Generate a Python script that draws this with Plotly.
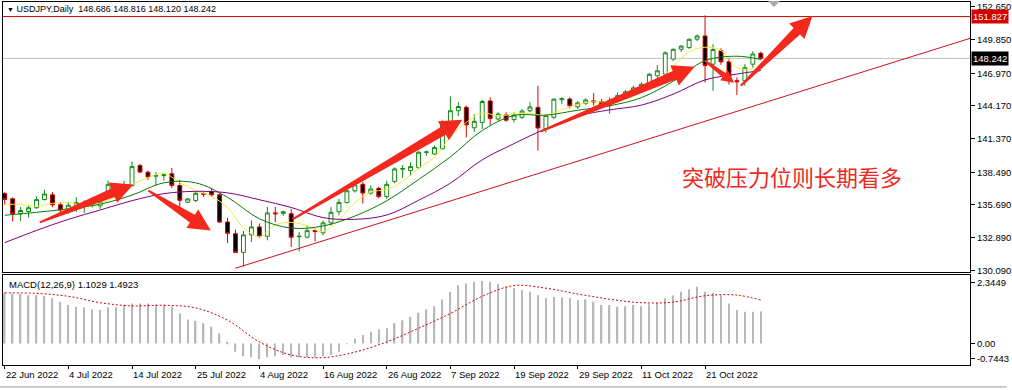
import math
import plotly.graph_objects as go

# ---------------- data ----------------
bar_index = list(range(96))

opens = [136.66, 136.21, 134.93, 135.13, 135.44, 136.15, 136.55, 135.70, 135.25, 135.55,
         135.64, 135.70, 135.60, 136.69, 137.40, 137.25, 137.35, 139.06, 138.49, 138.15,
         138.20, 138.35, 137.35, 135.92, 136.07, 136.66, 136.84, 136.55, 134.22, 133.22,
         131.62, 133.12, 133.80, 133.00, 135.00, 134.96, 134.93, 132.96, 132.93, 133.50,
         133.30, 134.15, 135.10, 135.90, 136.90, 137.45, 136.70, 137.10, 136.40, 137.70,
         138.75, 138.63, 138.90, 140.20, 140.05, 140.50, 142.78, 143.76, 144.05, 142.30,
         142.76, 144.60, 143.05, 143.40, 143.00, 143.20, 143.75, 144.05, 142.20, 143.20,
         144.70, 144.76, 144.10, 144.39, 144.60, 144.53, 144.19, 144.61, 145.00, 145.30,
         145.75, 145.85, 146.75, 146.90, 148.18, 149.03, 149.17, 149.89, 150.17, 147.75,
         148.89, 147.95, 146.33, 146.33, 147.75, 148.686]
highs = [136.78, 136.33, 135.50, 135.64, 136.41, 136.98, 136.78, 135.93, 135.93, 136.35,
         136.07, 136.05, 136.55, 137.78, 137.55, 137.75, 139.40, 139.20, 138.63, 138.49,
         138.40, 138.86, 137.83, 136.27, 136.84, 136.84, 137.15, 136.69, 134.58, 133.56,
         133.45, 134.36, 134.10, 135.50, 135.50, 135.20, 135.36, 133.36, 133.93, 133.65,
         134.36, 135.50, 136.20, 137.00, 137.60, 137.65, 137.35, 137.25, 137.75, 138.90,
         139.10, 139.35, 140.30, 140.35, 140.78, 142.95, 144.99, 144.50, 144.19, 143.45,
         144.70, 144.90, 143.62, 143.62, 143.62, 143.90, 144.48, 145.90, 143.47, 144.82,
         144.90, 144.90, 144.57, 144.82, 145.27, 144.76, 144.90, 145.33, 145.55, 145.90,
         146.20, 147.00, 147.66, 148.86, 149.10, 149.40, 149.95, 150.30, 151.94, 149.46,
         149.10, 148.30, 146.61, 147.75, 148.86, 148.816]
lows = [135.70, 134.27, 134.30, 134.60, 135.35, 136.06, 135.50, 134.93, 134.93, 135.07,
        134.98, 135.45, 135.35, 136.58, 136.92, 137.00, 137.26, 138.40, 137.83, 137.35,
        137.78, 137.15, 135.50, 135.84, 135.92, 136.35, 136.35, 134.13, 132.42, 131.57,
        130.40, 132.50, 132.85, 132.65, 134.20, 134.75, 132.08, 131.70, 132.80, 132.55,
        133.08, 133.93, 134.80, 135.80, 136.75, 135.80, 136.55, 136.25, 136.20, 137.55,
        137.98, 138.20, 138.75, 139.90, 139.97, 140.45, 142.70, 143.30, 141.48, 141.95,
        142.20, 142.55, 142.90, 142.82, 142.75, 143.05, 143.62, 140.35, 141.90, 143.05,
        144.33, 143.96, 143.90, 144.25, 144.19, 144.05, 143.50, 144.47, 144.76, 145.27,
        145.55, 145.70, 146.05, 146.80, 148.00, 148.80, 149.05, 149.70, 146.18, 145.47,
        147.70, 146.00, 145.10, 145.90, 147.45, 148.120]
closes = [136.15, 134.93, 135.21, 135.44, 136.14, 136.62, 135.70, 135.25, 135.66, 135.88,
          135.70, 135.80, 136.00, 137.45, 137.15, 137.42, 138.97, 138.50, 138.08, 138.20,
          138.26, 137.36, 136.08, 136.20, 136.68, 136.60, 136.55, 134.22, 133.25, 131.62,
          133.12, 133.80, 133.00, 135.00, 134.93, 135.10, 132.92, 133.00, 133.48, 133.40,
          134.15, 135.05, 135.90, 136.90, 137.40, 136.70, 137.05, 136.40, 137.45, 138.77,
          138.80, 138.97, 140.20, 140.22, 140.60, 142.78, 143.76, 144.12, 142.55, 142.85,
          144.55, 143.10, 143.48, 142.95, 143.40, 143.73, 144.08, 142.28, 143.35, 144.75,
          144.80, 144.18, 144.43, 144.68, 144.50, 144.25, 144.60, 145.05, 145.38, 145.72,
          146.02, 146.88, 147.18, 148.72, 149.02, 149.30, 149.88, 150.16, 147.63, 149.00,
          147.95, 146.35, 146.25, 147.45, 148.62, 148.242]

# moving averages
ma_fast_idx = list(range(0, 96, 2)) + [95]
ma_fast = [135.70, 135.75, 135.57, 135.82, 135.87, 135.64, 135.81, 136.42, 137.40, 138.02,
           138.40, 137.60, 136.92, 136.42, 135.46, 133.75, 132.96, 133.97, 134.19, 133.89,
           133.39, 134.40, 135.88, 136.79, 137.00, 137.69, 138.84, 139.76, 141.51, 142.76,
           143.57, 143.31, 143.50, 143.53, 143.37, 143.85, 144.30, 144.52, 144.49, 144.76,
           145.35, 146.24, 147.56, 148.82, 149.20, 148.92, 147.44, 147.32, 147.38]
ma_slow_idx = list(range(0, 96, 4)) + [95]
ma_mid = [134.80, 135.05, 135.35, 135.75, 136.53, 137.58, 137.58, 136.34, 134.50, 133.70,
          133.88, 134.73, 136.04, 137.86, 139.80, 142.06, 143.35, 143.38, 143.80, 144.18,
          144.88, 146.28, 148.05, 148.43, 148.15]
ma_long = [132.45, 133.50, 134.45, 135.25, 136.05, 136.65, 136.85, 136.72, 136.13, 135.47,
           134.60, 134.45, 134.82, 136.08, 137.55, 139.55, 140.94, 142.23, 143.30, 143.83,
           144.24, 145.18, 146.40, 146.90, 147.20]

macd_hist = [1.74, 1.72, 1.70, 1.66, 1.66, 1.64, 1.55, 1.43, 1.32, 1.26,
             1.24, 1.17, 1.15, 1.24, 1.24, 1.32, 1.37, 1.37, 1.37, 1.34,
             1.34, 1.26, 1.03, 0.82, 0.78, 0.69, 0.57, 0.34, 0.06, -0.29,
             -0.44, -0.48, -0.55, -0.48, -0.44, -0.40, -0.48, -0.48, -0.48, -0.48,
             -0.44, -0.40, -0.29, -0.02, 0.17, 0.29, 0.40, 0.48, 0.52, 0.69,
             0.80, 0.92, 1.05, 1.17, 1.28, 1.51, 1.78, 2.00, 2.06, 2.12,
             2.15, 2.12, 2.04, 1.95, 1.91, 1.83, 1.78, 1.66, 1.55, 1.60,
             1.58, 1.55, 1.49, 1.51, 1.43, 1.32, 1.32, 1.26, 1.28, 1.32,
             1.28, 1.35, 1.40, 1.55, 1.66, 1.78, 1.86, 1.95, 1.78, 1.74,
             1.66, 1.37, 1.15, 1.09, 1.09, 1.1029]
macd_signal = [1.74, 1.72, 1.62, 1.40, 1.29, 1.31, 1.22, 0.80, 0.05, -0.40,
               -0.49, -0.30, 0.05, 0.52, 1.03, 1.62, 1.99, 1.90, 1.70, 1.52,
               1.40, 1.42, 1.64, 1.66, 1.4923]

price_tick_vals = [152.65, 149.85, 146.97, 144.17, 141.37, 138.49, 135.69, 132.89, 130.09]
price_tick_text = ["152.650", "149.850", "146.970", "144.170", "141.370", "138.490",
                   "135.690", "132.890", "130.090"]
date_tick_idx = [0, 8, 16, 24, 32, 40, 48, 56, 64, 72, 80, 88]
date_tick_text = ["22 Jun 2022", "4 Jul 2022", "14 Jul 2022", "25 Jul 2022", "4 Aug 2022",
                  "16 Aug 2022", "26 Aug 2022", "7 Sep 2022", "19 Sep 2022", "29 Sep 2022",
                  "11 Oct 2022", "21 Oct 2022"]

resistance = 151.827
last_price = 148.242
macd_min, macd_max = -0.7443, 2.3449

# drawn objects (anchored at bar index / price, like terminal drawings)
arrows = [((4.41, 134.19), (16.16, 137.44)),
          ((18.04, 136.92), (25.90, 133.50)),
          ((36.16, 134.45), (57.50, 142.99)),
          ((67.30, 141.97), (86.70, 147.52)),
          ((88.00, 148.03), (91.66, 146.15)),
          ((92.50, 145.90), (101.50, 151.88))]
trend_start = (29.0, 130.26)
trend_end = (121.29, 149.96)

# ---------------- layout geometry ----------------
W, H = 1012, 390
ML, MR, MT, MB = 3, 37, 1, 25
PX_L, PX_R = ML, W - MR
PX_T, PX_MAIN_B = MT, 272
PX_MACD_T, PX_B = 275, H - MB
X0, X1 = -0.2125, 121.2875
Y0, Y1 = 129.915, 153.077
plot_h = PX_B - PX_T


def pfy(py):
    return (PX_B - py) / plot_h


def pfx(px):
    return (px - PX_L) / (PX_R - PX_L)


def to_px(i, p):
    return (PX_L + (i - X0) / (X1 - X0) * (PX_R - PX_L),
            PX_T + (Y1 - p) / (Y1 - Y0) * (PX_MAIN_B - PX_T))


def to_data(px, py):
    return (X0 + (px - PX_L) / (PX_R - PX_L) * (X1 - X0),
            Y1 - (py - PX_T) / (PX_MAIN_B - PX_T) * (Y1 - Y0))


def arrow_path(tail, tip):
    tx, ty = to_px(*tail)
    hx, hy = to_px(*tip)
    dx, dy = hx - tx, hy - ty
    L = math.hypot(dx, dy)
    ux, uy = dx / L, dy / L
    nx, ny = -uy, ux
    hl = max(11, min(22, 0.35 * L))
    hw = 0.5 * hl
    nw = 0.21 * hl
    tw = 1.0
    bx, by = hx - ux * hl, hy - uy * hl
    pts = [(tx + nx * tw, ty + ny * tw), (bx + nx * nw, by + ny * nw),
           (bx + nx * hw, by + ny * hw), (hx, hy),
           (bx - nx * hw, by - ny * hw), (bx - nx * nw, by - ny * nw),
           (tx - nx * tw, ty - ny * tw)]
    d = [to_data(*p) for p in pts]
    return "M " + " L ".join(f"{a:.4f},{b:.4f}" for a, b in d) + " Z"


FONT = "Liberation Sans, Arial, sans-serif"

fig = go.Figure()
fig.add_trace(go.Candlestick(
    x=bar_index, open=opens, high=highs, low=lows, close=closes,
    increasing=dict(line=dict(color="#138a13", width=1), fillcolor="#ffffff"),
    decreasing=dict(line=dict(color="#d40000", width=1), fillcolor="#000000"),
    whiskerwidth=0, xaxis="x", yaxis="y", hoverinfo="skip"))
fig.add_trace(go.Scatter(x=ma_fast_idx, y=ma_fast, mode="lines", line=dict(color="#eeee40", width=1, shape="spline"),
                         xaxis="x", yaxis="y", hoverinfo="skip"))
fig.add_trace(go.Scatter(x=ma_slow_idx, y=ma_mid, mode="lines", line=dict(color="#0a7a0a", width=1, shape="spline"),
                         xaxis="x", yaxis="y", hoverinfo="skip"))
fig.add_trace(go.Scatter(x=ma_slow_idx, y=ma_long, mode="lines", line=dict(color="#800080", width=1, shape="spline"),
                         xaxis="x", yaxis="y", hoverinfo="skip"))
fig.add_trace(go.Bar(x=bar_index, y=macd_hist, width=0.18, marker=dict(color="#b8b8b8", line=dict(width=0)),
                     xaxis="x2", yaxis="y2", hoverinfo="skip"))
fig.add_trace(go.Scatter(x=ma_slow_idx, y=macd_signal, mode="lines",
                         line=dict(color="#d00000", width=1, dash="2px,2px", shape="spline"),
                         xaxis="x2", yaxis="y2", hoverinfo="skip"))

shapes = []
# horizontal lines
shapes.append(dict(type="line", xref="x domain", yref="y", x0=0, x1=1, y0=last_price, y1=last_price,
                   line=dict(color="#c0c0c0", width=1), layer="below"))
shapes.append(dict(type="line", xref="x domain", yref="y", x0=0, x1=1, y0=resistance, y1=resistance,
                   line=dict(color="#cc0000", width=1)))
# trend line
shapes.append(dict(type="line", xref="x", yref="y", x0=trend_start[0], y0=trend_start[1],
                   x1=trend_end[0], y1=trend_end[1], line=dict(color="#cc1020", width=1)))
# arrows
for tail, tip in arrows:
    shapes.append(dict(type="path", xref="x", yref="y", path=arrow_path(tail, tip),
                       fillcolor="#f4281c", line=dict(width=0)))
# chart-shift marker
shapes.append(dict(type="path", xref="paper", yref="paper",
                   path=f"M {pfx(772)},{pfy(0)} L {pfx(784)},{pfy(0)} L {pfx(778)},{pfy(6)} Z",
                   fillcolor="#a8a8a8", line=dict(width=0)))
# bottom tab bar line
shapes.append(dict(type="line", xref="paper", yref="paper", x0=pfx(0), x1=pfx(W), y0=pfy(387), y1=pfy(387),
                   line=dict(color="#9a9a9a", width=1)))

annotations = []
annotations.append(dict(xref="paper", yref="paper", x=pfx(5), y=pfy(8), xanchor="left", yanchor="middle",
                        text="<span style='font-size:7px'>▼</span> USDJPY,Daily\u00a0\u00a0148.686 148.816 148.120 148.242",
                        showarrow=False, font=dict(family=FONT, size=9, color="#000000")))
annotations.append(dict(xref="paper", yref="paper", x=pfx(7), y=pfy(284), xanchor="left", yanchor="middle",
                        text="MACD(12,26,9) 1.1029 1.4923", showarrow=False,
                        font=dict(family=FONT, size=9.5, color="#000000")))
annotations.append(dict(xref="paper", yref="paper", x=pfx(796), y=pfy(175), xanchor="center", yanchor="middle",
                        text="突破压力位则长期看多", showarrow=False,
                        font=dict(family="Noto Sans CJK SC", size=22, color="#ee2a22")))
for val, bg in ((resistance, "#d40000"), (last_price, "#000000")):
    annotations.append(dict(xref="paper", yref="y", x=1, y=val, xanchor="left", yanchor="middle", xshift=1,
                            text=f"{val:.3f}", showarrow=False, bgcolor=bg, borderpad=1,
                            font=dict(family=FONT, size=9.5, color="#ffffff")))
for idx, lab in zip(date_tick_idx, date_tick_text):
    annotations.append(dict(xref="x2", yref="paper", x=idx, y=pfy(375), xanchor="left", yanchor="middle",
                            xshift=-1, text=lab, showarrow=False,
                            font=dict(family=FONT, size=9.5, color="#000000")))

macd_px = (PX_B - PX_MACD_T) / (macd_max - macd_min)
macd_tick_vals = [macd_max - 7.7 / macd_px, 0.0, macd_min + 6.7 / macd_px]
macd_tick_text = [f"{macd_max:.4f}", "0.00", f"{macd_min:.4f}"]

axis_common = dict(showline=True, mirror=True, linecolor="#000000", linewidth=1, showgrid=False,
                   zeroline=False, fixedrange=True)

fig.update_layout(
    width=W, height=H,
    margin=dict(l=ML, r=MR, t=MT, b=MB),
    paper_bgcolor="#ffffff", plot_bgcolor="#ffffff",
    showlegend=False,
    xaxis=dict(domain=[0, 1], range=[X0, X1], anchor="y", showticklabels=False, ticks="",
               rangeslider=dict(visible=False), **axis_common),
    yaxis=dict(domain=[pfy(PX_MAIN_B), 1], range=[Y0, Y1], anchor="x", side="right",
               tickvals=price_tick_vals, ticktext=price_tick_text, ticks="outside", ticklen=4,
               tickcolor="#000000", tickfont=dict(family=FONT, size=9.5, color="#000000"), **axis_common),
    xaxis2=dict(domain=[0, 1], range=[X0, X1], anchor="y2", tickvals=date_tick_idx, ticks="outside",
                ticklen=3, tickcolor="#000000", showticklabels=False, **axis_common),
    yaxis2=dict(domain=[0, pfy(PX_MACD_T)], range=[macd_min, macd_max], anchor="x2", side="right",
                tickvals=macd_tick_vals, ticktext=macd_tick_text, ticks="outside", ticklen=4,
                tickcolor="#000000", tickfont=dict(family=FONT, size=9.5, color="#000000"), **axis_common),
    shapes=shapes,
    annotations=annotations,
)

fig.write_html("out.html", config={"displayModeBar": False},
               post_script="document.body.style.margin='0';document.body.style.overflow='hidden';")
